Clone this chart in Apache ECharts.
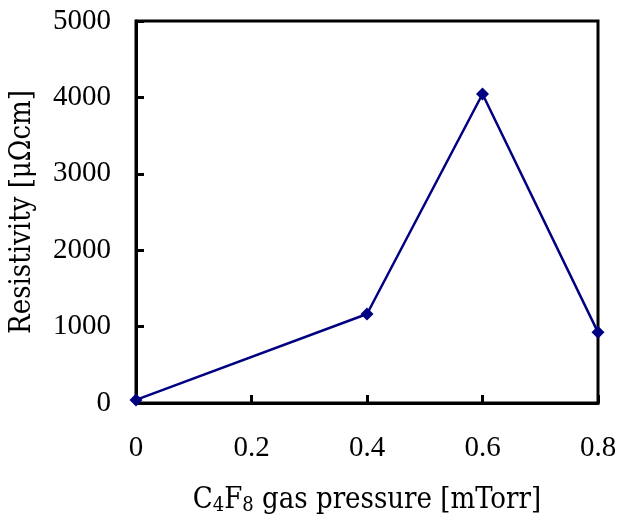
<!DOCTYPE html>
<html>
<head>
<meta charset="utf-8">
<script src="https://cdn.jsdelivr.net/npm/echarts@6/dist/echarts.min.js"></script>
<style>
  html, body { margin: 0; padding: 0; background: #fff; }
  #main { width: 621px; height: 516px; }
</style>
</head>
<body>
<div id="main"></div>
<script>
// data
var pressure = [0, 0.4, 0.6, 0.8];
var resistivity = [40, 1165, 4045, 925];
var xTicks = [0, 0.2, 0.4, 0.6, 0.8];
var yTicks = [0, 1000, 2000, 3000, 4000, 5000];

var tickFont = "'Liberation Serif', serif";
var titleFont = "'DejaVu Serif Condensed', 'DejaVu Serif', serif";

var myChart = echarts.init(document.getElementById("main"));
myChart.setOption({
  animation: false,
  grid: {
    left: 136,
    right: 23,
    top: 21,
    bottom: 113,
    outerBoundsMode: "none",
    containLabel: false,
    show: true,
    borderColor: "#000",
    borderWidth: 3,
  },
  xAxis: {
    type: "value",
    min: 0,
    max: 0.8,
    interval: 0.2,
    name: "{t|C}{s|4}{t|F}{s|8}{t| gas pressure [mTorr]}",
    nameLocation: "middle",
    nameGap: 81,
    nameTextStyle: {
      rich: {
        t: { fontFamily: titleFont, fontSize: 29, color: "#000" },
        s: { fontFamily: titleFont, fontSize: 20, color: "#000", verticalAlign: "bottom", padding: [12, 0, 0, 0] },
      },
    },
    axisLine: { show: true, onZero: false, lineStyle: { color: "#000", width: 3 } },
    axisTick: { show: true, inside: true, length: 8, lineStyle: { color: "#000", width: 3 } },
    splitLine: { show: false },
    axisLabel: {
      margin: 31,
      fontFamily: tickFont,
      fontSize: 29,
      color: "#000",
      formatter: function (v) {
        return xTicks.indexOf(+v.toFixed(1)) >= 0 ? String(+v.toFixed(1)) : "";
      },
    },
  },
  yAxis: {
    type: "value",
    min: 0,
    max: 5000,
    interval: 1000,
    name: "Resistivity [μΩcm]",
    nameLocation: "middle",
    nameGap: 99,
    nameTextStyle: { fontFamily: titleFont, fontSize: 29, color: "#000" },
    axisLine: { show: true, lineStyle: { color: "#000", width: 3 } },
    axisTick: { show: true, inside: true, length: 8, lineStyle: { color: "#000", width: 3 } },
    splitLine: { show: false },
    axisLabel: {
      margin: 25,
      fontFamily: tickFont,
      fontSize: 29,
      color: "#000",
      formatter: function (v) {
        return yTicks.indexOf(v) >= 0 ? String(v) : "";
      },
    },
  },
  series: [
    {
      type: "line",
      data: pressure.map(function (p, i) { return [p, resistivity[i]]; }),
      symbol: "diamond",
      symbolSize: 13,
      lineStyle: { color: "#000080", width: 2.5 },
      itemStyle: { color: "#000080" },
      clip: false,
    },
  ],
});
</script>
</body>
</html>
